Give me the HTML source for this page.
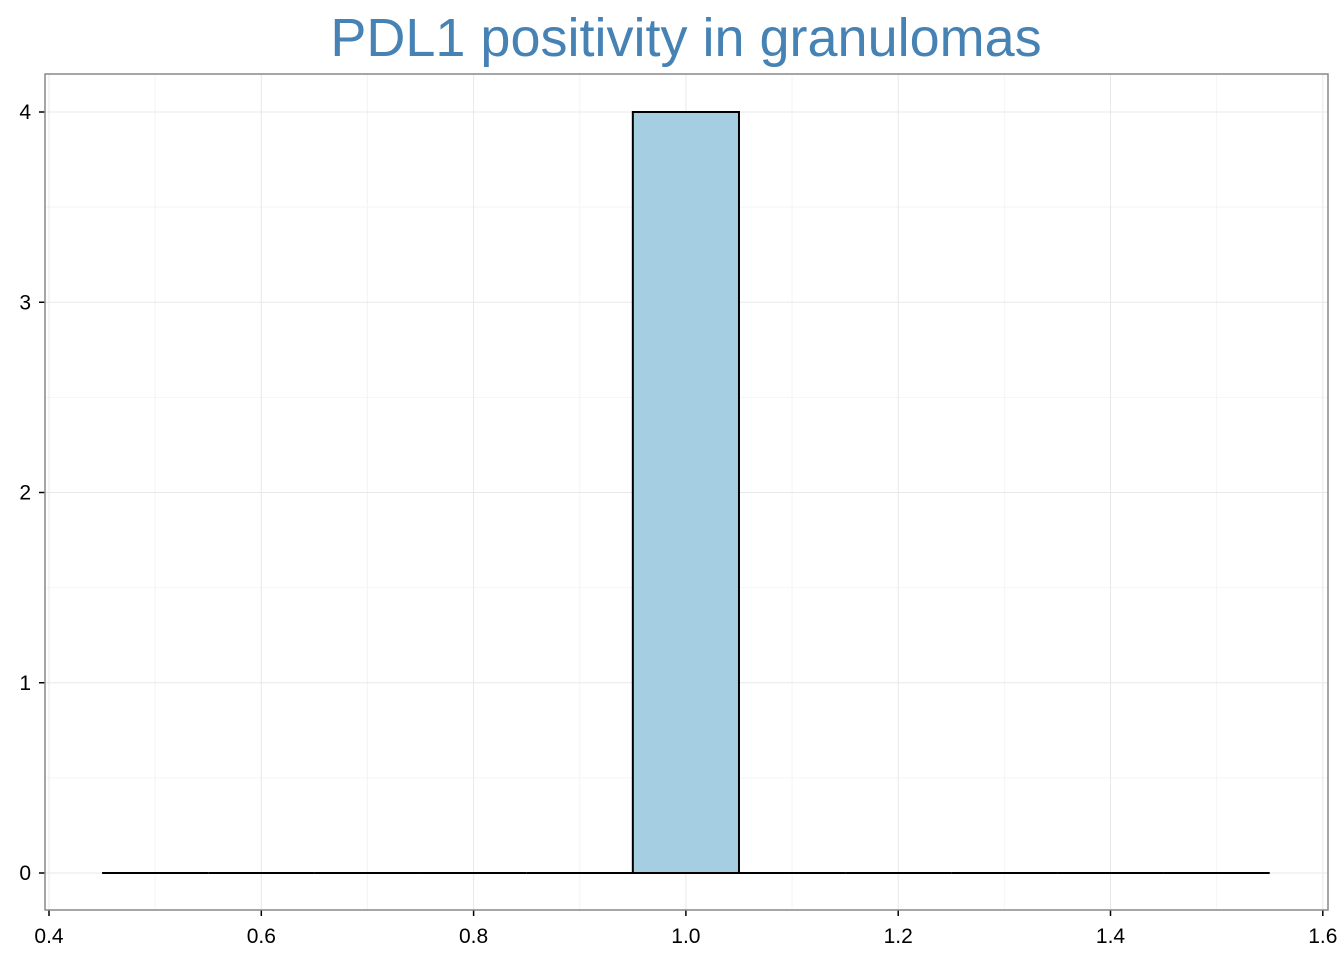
<!DOCTYPE html>
<html><head><meta charset="utf-8"><style>
html,body{margin:0;padding:0;background:#fff;}
svg{display:block;font-family:"Liberation Sans",sans-serif;}
</style></head><body>
<svg id="chart" width="1344" height="960">
<text x="686" y="56" text-anchor="middle" font-size="54" fill="#4682b4">PDL1 positivity in granulomas</text>
<g id="grid"></g>
<g id="bars"></g>
<g id="axes"></g>
</svg>
<script>
const binStarts = [0.45,0.55,0.65,0.75,0.85,0.95,1.05,1.15,1.25,1.35,1.45];
const counts = [0,0,0,0,0,4,0,0,0,0,0];
const binWidth = 0.1;
const xTicks = [0.4,0.6,0.8,1.0,1.2,1.4,1.6];
const xTickLabels = ["0.4","0.6","0.8","1.0","1.2","1.4","1.6"];
const yTicks = [0,1,2,3,4];
const yTickLabels = ["0","1","2","3","4"];

const L=45,R=1328,T=74,B=910;
const x=v=>49+(v-0.4)*1061.5;
const y=v=>873-v*190.25;
const NS="http://www.w3.org/2000/svg";
function mk(tag,attrs,parent,txt){const e=document.createElementNS(NS,tag);for(const k in attrs)e.setAttribute(k,attrs[k]);if(txt!==undefined)e.textContent=txt;parent.appendChild(e);return e;}
const grid=document.getElementById('grid'),bars=document.getElementById('bars'),axes=document.getElementById('axes');
mk('rect',{x:L,y:T,width:R-L,height:B-T,fill:'#fff'},grid);
for(let i=0;i<xTicks.length-1;i++){const m=(xTicks[i]+xTicks[i+1])/2;const l=mk('line',{x1:x(m),x2:x(m),y1:T,y2:B,stroke:'#f4f4f4','stroke-width':1},grid);}
for(let i=0;i<yTicks.length-1;i++){const m=(yTicks[i]+yTicks[i+1])/2;const l=mk('line',{x1:L,x2:R,y1:y(m),y2:y(m),stroke:'#f4f4f4','stroke-width':1},grid);}
xTicks.forEach((t,i)=>{
 const g=mk('line',{x1:x(t),x2:x(t),y1:T,y2:B,stroke:'#e8e8e8','stroke-width':1},grid);
 
 const tk=mk('line',{x1:x(t),x2:x(t),y1:B,y2:B+6,stroke:'#000','stroke-width':1.5},axes);
 
 const lb=mk('text',{x:x(t),y:B+33,'text-anchor':'middle','font-size':21,fill:'#000'},axes,xTickLabels[i]);
 
});
yTicks.forEach((t,i)=>{
 const g=mk('line',{x1:L,x2:R,y1:y(t),y2:y(t),stroke:'#e8e8e8','stroke-width':1},grid);
 
 const tk=mk('line',{x1:L-6,x2:L,y1:y(t),y2:y(t),stroke:'#000','stroke-width':1.5},axes);
 
 const lb=mk('text',{x:L-14,y:y(t)+7,'text-anchor':'end','font-size':21,fill:'#000'},axes,yTickLabels[i]);
 
});
binStarts.forEach((s,i)=>{
 const x0=x(s),x1=x(s+binWidth),y0=y(counts[i]),yb=y(0);
 if(counts[i]>0){
  const r=mk('rect',{x:x0,y:y0,width:x1-x0,height:yb-y0,fill:'#a6cee3',stroke:'#000','stroke-width':2},bars);
  
 } else {
  const l=mk('line',{x1:x0,x2:x1,y1:yb,y2:yb,stroke:'#000','stroke-width':2},bars);
  
 }
});
const f=mk('rect',{x:L,y:T,width:R-L,height:B-T,fill:'none',stroke:'#888','stroke-width':1.5},axes);

</script>
</body></html>
